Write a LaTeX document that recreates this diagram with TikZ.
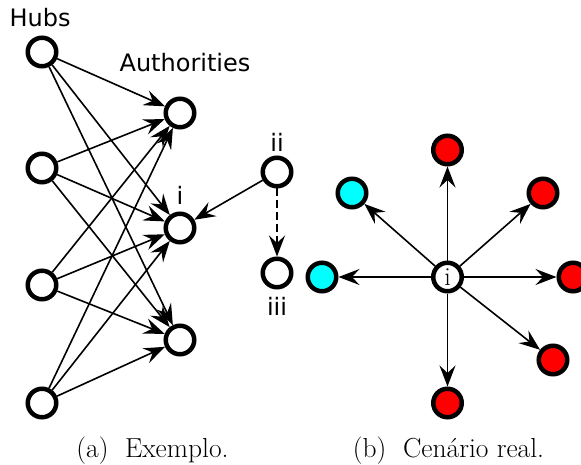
\documentclass[tikz,border=0pt]{standalone}
\usepackage{fontspec}
\newfontfamily\lbl{DejaVu Sans}
\usetikzlibrary{arrows.meta}
\definecolor{nodered}{RGB}{255,0,0}
\definecolor{nodecyan}{RGB}{0,255,255}
\tikzset{
  vtx/.style={circle, draw, line width=4.5pt, minimum size=28.5pt, inner sep=0pt, fill=white},
  redv/.style={vtx, fill=nodered},
  cyanv/.style={vtx, fill=nodecyan},
  arr/.style={line width=1.6pt, -{Stealth[length=21pt,width=16pt,inset=7.5pt]}},
  dashedarr/.style={arr, dash pattern=on 8pt off 4pt},
  lab/.style={font=\lbl\fontsize{24}{28}\selectfont, anchor=base, inner sep=0pt},
  captxt/.style={font=\fontsize{27.5}{32}\selectfont, anchor=base, inner sep=0pt}
}
\begin{document}
\begin{tikzpicture}[x=1pt,y=-1pt]
\useasboundingbox (0,0) rectangle (581,465);
% (a)
\node[vtx] (h1) at (42,52) {};
\node[vtx] (h2) at (42,168) {};
\node[vtx] (h3) at (42,285) {};
\node[vtx] (h4) at (42,403) {};
\node[vtx] (a1) at (180,113) {};
\node[vtx] (a2) at (180,228) {};
\node[vtx] (a3) at (180,340) {};
\node[vtx] (ii) at (277,172) {};
\node[vtx] (iii) at (277,273) {};
\node[lab] (lhubs) at (40,27) {Hubs};
\node[lab] (lauth) at (185,72) {Authorities};
\node[lab] (li) at (180,205) {i};
\node[lab] (lii) at (277,152) {ii};
\node[lab] (liii) at (277,315) {iii};
\foreach \h in {h1,h2,h3,h4}{
  \foreach \a in {a1,a2,a3}{
    \draw[arr] (\h) -- (\a);
  }
}
\draw[arr] (ii) -- (a2);
\draw[dashedarr] (ii) -- (iii);
% (b)
\node[vtx, font=\fontsize{26}{30}\selectfont] (c) at (447.5,277) {i};
\node[redv] (t) at (447.5,150) {};
\node[redv] (tr) at (543,193) {};
\node[redv] (r) at (573,277) {};
\node[redv] (br) at (553,360) {};
\node[redv] (b) at (447.5,403) {};
\node[cyanv] (tl) at (352,193) {};
\node[cyanv] (l) at (322,277) {};
\foreach \n in {t,tr,r,br,b,tl,l}{
  \draw[arr] (c) -- (\n);
}
% captions
\node[captxt] (capa) at (152.5,457) {(a)\ \ Exemplo.};
\node[captxt] (capb) at (448.5,457) {(b)\ \ Cenário real.};
\end{tikzpicture}
\end{document}
